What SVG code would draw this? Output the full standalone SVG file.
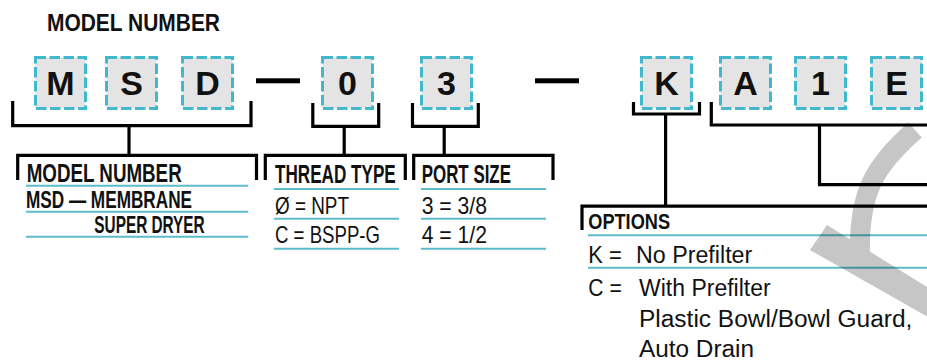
<svg xmlns="http://www.w3.org/2000/svg" width="927" height="364" viewBox="0 0 927 364">
<style>
.box rect{fill:#e4e4e4;stroke:#42b8cc;stroke-width:3;stroke-dasharray:10.5 3.5}
.box text{font-family:"Liberation Sans",Arial,sans-serif;font-weight:bold;font-size:34px;text-anchor:middle;fill:#111}
.bk{fill:none;stroke:#000;stroke-width:3.2;stroke-linejoin:miter}
.tl{stroke:#5bbccb;stroke-width:2}
.b{font-family:"Liberation Sans",Arial,sans-serif;font-weight:bold;fill:#111}
.r{font-family:"Liberation Sans",Arial,sans-serif;fill:#111}
</style>
<text class="b" x="47" y="30.7" font-size="24" textLength="173" lengthAdjust="spacingAndGlyphs">MODEL NUMBER</text>

<g id="box-M" class="box"><rect x="35.5" y="57.5" width="50" height="51"/><text x="60.5" y="94.5">M</text></g>
<g id="box-S" class="box"><rect x="106.5" y="57.5" width="50" height="51"/><text x="131.5" y="94.5">S</text></g>
<g id="box-D" class="box"><rect x="182.5" y="57.5" width="50" height="51"/><text x="207.5" y="94.5">D</text></g>
<g id="box-0" class="box"><rect x="322.5" y="57.5" width="50" height="51"/><text x="347.5" y="94.5">0</text></g>
<g id="box-3" class="box"><rect x="421.5" y="57.5" width="50" height="51"/><text x="446.5" y="94.5">3</text></g>
<g id="box-K" class="box"><rect x="641.5" y="57.5" width="50" height="51"/><text x="666.5" y="94.5">K</text></g>
<g id="box-A" class="box"><rect x="720.5" y="57.5" width="50" height="51"/><text x="745.5" y="94.5">A</text></g>
<g id="box-1" class="box"><rect x="795.5" y="57.5" width="50" height="51"/><text x="820.5" y="94.5">1</text></g>
<g id="box-E" class="box"><rect x="871.5" y="57.5" width="50" height="51"/><text x="896.5" y="94.5">E</text></g>

<g id="dash-1"><rect x="256" y="78.3" width="44" height="5" fill="#000"/></g>
<g id="dash-2"><rect x="535" y="78.3" width="44" height="5" fill="#000"/></g>

<g id="connectors" class="bk">
<path d="M12.7,101 V125.7 H251 V101"/>
<path d="M129,125.7 V155.3"/>
<path d="M312.8,103 V126.3 H378.7 V103"/>
<path d="M344.2,126.3 V155.3"/>
<path d="M412.5,103 V126.3 H478.3 V103"/>
<path d="M444.2,126.3 V155.3"/>
<path d="M633.5,102 V114 H699.5 V102"/>
<path d="M665.6,114 V206.2"/>
<path d="M711.3,102 V125 H930"/>
<path d="M819.5,125 V184.7 H930"/>
</g>

<g id="label-model">
<path class="bk" d="M17.7,180 V155.3 H256.5 V180"/>
<text class="b" x="26.7" y="181.7" font-size="25" textLength="155" lengthAdjust="spacingAndGlyphs">MODEL NUMBER</text>
<line class="tl" x1="26" y1="185.8" x2="248.3" y2="185.8"/>
<text class="b" x="26" y="208.3" font-size="23" textLength="166" lengthAdjust="spacingAndGlyphs">MSD — MEMBRANE</text>
<line class="tl" x1="26" y1="211.7" x2="248.3" y2="211.7"/>
<text class="b" x="94.3" y="233.3" font-size="23" textLength="110.4" lengthAdjust="spacingAndGlyphs">SUPER DRYER</text>
<line class="tl" x1="26" y1="236.7" x2="248.3" y2="236.7"/>
</g>

<g id="label-thread">
<path class="bk" d="M265.3,180 V155.3 H405.3 V180"/>
<text class="b" x="275" y="182.5" font-size="25" textLength="120.7" lengthAdjust="spacingAndGlyphs">THREAD TYPE</text>
<line class="tl" x1="274" y1="189" x2="399" y2="189"/>
<text class="r" x="275" y="214.3" font-size="24" textLength="74" lengthAdjust="spacingAndGlyphs">Ø = NPT</text>
<line class="tl" x1="274" y1="218.8" x2="399" y2="218.8"/>
<text class="r" x="275" y="243.3" font-size="24" textLength="105" lengthAdjust="spacingAndGlyphs">C = BSPP-G</text>
<line class="tl" x1="274" y1="248.8" x2="399" y2="248.8"/>
</g>

<g id="label-port">
<path class="bk" d="M413.7,180 V155.3 H553 V180"/>
<text class="b" x="421.7" y="182.5" font-size="25" textLength="89.3" lengthAdjust="spacingAndGlyphs">PORT SIZE</text>
<line class="tl" x1="421" y1="189" x2="546" y2="189"/>
<text class="r" x="421.7" y="214.3" font-size="24" textLength="65.3" lengthAdjust="spacingAndGlyphs">3 = 3/8</text>
<line class="tl" x1="421" y1="218.8" x2="546" y2="218.8"/>
<text class="r" x="421.7" y="243.3" font-size="24" textLength="65.3" lengthAdjust="spacingAndGlyphs">4 = 1/2</text>
<line class="tl" x1="421" y1="248.8" x2="546" y2="248.8"/>
</g>

<g id="label-options">
<path class="bk" d="M582,230 V206.2 H930"/>
<text class="b" x="588.3" y="229.3" font-size="22" textLength="81.7" lengthAdjust="spacingAndGlyphs">OPTIONS</text>
<line class="tl" x1="588" y1="235.3" x2="927" y2="235.3"/>
<text class="r" x="588.3" y="262.7" font-size="23" textLength="33.4" lengthAdjust="spacingAndGlyphs">K =</text>
<text class="r" x="636" y="262.7" font-size="23" textLength="116.3" lengthAdjust="spacingAndGlyphs">No Prefilter</text>
<line class="tl" x1="588" y1="267.7" x2="927" y2="267.7"/>
<text class="r" x="588.3" y="296" font-size="23" textLength="33.4" lengthAdjust="spacingAndGlyphs">C =</text>
<text class="r" x="639" y="296" font-size="23" textLength="131.7" lengthAdjust="spacingAndGlyphs">With Prefilter</text>
<text class="r" x="639" y="327.3" font-size="23" textLength="273.3" lengthAdjust="spacingAndGlyphs">Plastic Bowl/Bowl Guard,</text>
<text class="r" x="639" y="356.7" font-size="23" textLength="115" lengthAdjust="spacingAndGlyphs">Auto Drain</text>
</g>

<g id="gray-arrow" opacity="0.22">
<path d="M915,130 C874,167 858,192 860,258" fill="none" stroke="#000" stroke-width="20"/>
<polygon points="827,225 940,295 940,324 810,250" fill="#000"/>
</g>
</svg>
